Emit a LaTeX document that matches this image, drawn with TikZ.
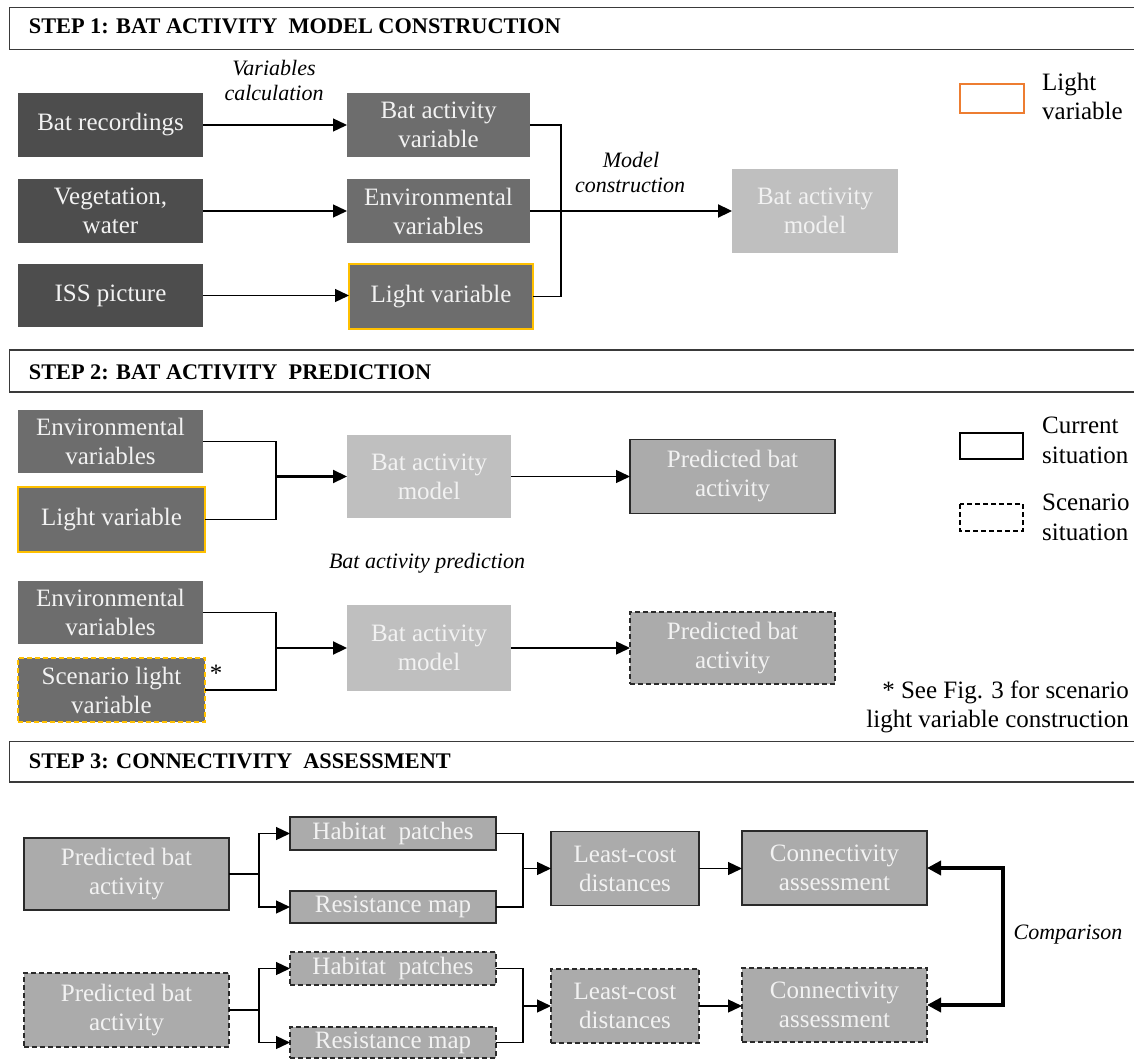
\documentclass[tikz,border=0pt]{standalone}
\usepackage{fontspec}
\setmainfont{Liberation Serif}
\usetikzlibrary{arrows.meta}
\definecolor{dk}{HTML}{4D4D4D}
\definecolor{md}{HTML}{6D6D6D}
\definecolor{lt}{HTML}{BFBFBF}
\definecolor{pr}{HTML}{ABABAB}
\definecolor{bd}{HTML}{2A2A2A}
\definecolor{gold}{HTML}{FFC000}
\definecolor{orng}{HTML}{ED7D31}
\definecolor{hd}{HTML}{3A3A3A}
\definecolor{txw}{HTML}{F2F2F2}
\begin{document}
\begin{tikzpicture}[x=1pt,y=-1pt,
  box/.style={inner sep=0pt, outer sep=0pt, align=center, text=txw, font=\fontsize{25}{29}\selectfont},
  dkbox/.style={box, fill=dk},
  mdbox/.style={box, fill=md},
  ltbox/.style={box, fill=lt},
  prbox/.style={box, fill=pr, draw=bd, line width=1.4pt},
  scen/.style={dash pattern=on 5pt off 3pt},
  goldb/.style={draw=gold, line width=1.6pt},
  conn/.style={line width=1.3pt},
  arr/.style={conn, -{Triangle[length=14pt,width=13pt]}},
  thickarr/.style={line width=2.2pt, -{Triangle[length=14pt,width=13pt]}},
  hdr/.style={draw=hd, line width=1.5pt},
  title/.style={anchor=base west, inner sep=0pt, font=\fontsize{22.3}{26}\selectfont\bfseries},
  lab/.style={inner sep=0pt, anchor=base, font=\fontsize{22}{25}\selectfont\itshape},
  leg/.style={inner sep=0pt, anchor=base west, font=\fontsize{25}{29}\selectfont},
]
\useasboundingbox (0,0) rectangle (1134,1059);
\clip (0,0) rectangle (1134,1059);
\fill[white] (0,0) rectangle (1134,1059);

% ---------- headers
\draw[hdr] (9.6,7.3) rectangle (1145,49.3);
\node[title] (t1) at (28.7,34) {STEP 1: BAT ACTIVITY\ \ MODEL CONSTRUCTION};
\draw[hdr] (9.6,350) rectangle (1145,392);
\node[title] (t2) at (28.7,379) {STEP 2: BAT ACTIVITY\ \ PREDICTION};
\draw[hdr] (9.6,741.5) rectangle (1145,782);
\node[title] (t3) at (28.7,768) {STEP 3: CONNECTIVITY\ \ ASSESSMENT};

% ---------- step 1
\node[dkbox, minimum width=185pt, minimum height=64pt] (rec) at (110.5,125) {Bat recordings};
\node[dkbox, minimum width=185pt, minimum height=64pt] (veg) at (110.5,211) {Vegetation,\\water};
\node[dkbox, minimum width=185pt, minimum height=63pt] (iss) at (110.5,295.5) {ISS picture};
\node[mdbox, minimum width=183pt, minimum height=64pt] (bav) at (438.5,125) {Bat activity\\variable};
\node[mdbox, minimum width=183pt, minimum height=64pt] (env1) at (438.5,211) {Environmental\\variables};
\node[mdbox, goldb, minimum width=184pt, minimum height=65pt] (lv1) at (441,296.5) {Light variable};
\node[ltbox, minimum width=166pt, minimum height=84pt] (bam1) at (815,211) {Bat activity\\model};

\draw[arr] (rec.east) -- (bav.west);
\draw[arr] (veg.east) -- (env1.west);
\draw[arr] (iss.east) -- (iss.east -| lv1.west);
\coordinate (j1) at (561,211);
\draw[conn] (bav.east) -| (j1) |- (lv1.east);
\draw[thickarr] (env1.east) -- (bam1.west);

\node[lab] (vc1) at (274,76) {Variables};
\node[lab] (vc2) at (274,101) {calculation};
\node[lab] (mc1) at (631,168) {Model};
\node[lab] (mc2) at (630,193) {construction};

\draw[draw=orng, line width=1.5pt] (960,84) rectangle (1024,113);
\node[leg] (lg1) at (1042,91) {Light};
\node[leg] (lg2) at (1042,120) {variable};

% ---------- step 2
\node[mdbox, minimum width=185pt, minimum height=63pt] (env2a) at (110.5,441.5) {Environmental\\variables};
\node[mdbox, goldb, minimum width=187pt, minimum height=65pt] (lv2) at (111.5,519.5) {Light variable};
\node[ltbox, minimum width=164pt, minimum height=83pt] (bam2a) at (429,476.5) {Bat activity\\model};
\node[prbox, minimum width=205pt, minimum height=74pt] (pba) at (732.5,476.5) {Predicted bat\\activity};
\coordinate (j2) at (276,476.5);
\draw[conn] (env2a.east) -| (j2) |- (lv2.east);
\draw[thickarr] (j2) -- (bam2a.west);
\draw[arr] (bam2a.east) -- (pba.west);

\node[lab] (bap) at (427,568) {Bat activity prediction};

\node[mdbox, minimum width=185pt, minimum height=63pt] (env2b) at (110.5,612.5) {Environmental\\variables};
\node[mdbox, goldb, scen, minimum width=187pt, minimum height=64pt] (slv) at (111.5,690) {Scenario light\\variable};
\node[ltbox, minimum width=164pt, minimum height=86pt] (bam2b) at (429,648) {Bat activity\\model};
\node[prbox, scen, minimum width=205pt, minimum height=72pt] (pbb) at (732.5,648) {Predicted bat\\activity};
\coordinate (j3) at (276,648);
\draw[conn] (env2b.east) -| (j3) |- (slv.east);
\draw[thickarr] (j3) -- (bam2b.west);
\draw[arr] (bam2b.east) -- (pbb.west);
\node[leg, anchor=base] (ast) at (216,681) {*};

\draw[draw=black, line width=1.4pt] (960,433) rectangle (1023,459);
\node[leg] (lg3) at (1042,433) {Current};
\node[leg] (lg4) at (1042,463) {situation};
\draw[draw=black, line width=1.4pt, scen] (960,504) rectangle (1023,531);
\node[leg] (lg5) at (1042,510) {Scenario};
\node[leg] (lg6) at (1042,540) {situation};

\node[leg, anchor=base east] (fn1) at (1129,698) {* See Fig. 3 for scenario};
\node[leg, anchor=base east] (fn2) at (1129,727) {light variable construction};

% ---------- step 3
\node[prbox, minimum width=205pt, minimum height=72pt] (pbc) at (126.5,874) {Predicted bat\\activity};
\node[prbox, minimum width=206pt, minimum height=33pt] (hpc) at (393,833.5) {Habitat\ \ patches};
\node[prbox, minimum width=206pt, minimum height=32pt] (rmc) at (393,907) {Resistance map};
\node[prbox, minimum width=148pt, minimum height=74pt] (lcc) at (625,868.5) {Least-cost\\distances};
\node[prbox, minimum width=185pt, minimum height=74pt] (cac) at (834.5,868) {Connectivity\\assessment};

\node[prbox, scen, minimum width=205pt, minimum height=74pt] (pbs) at (126.5,1010) {Predicted bat\\activity};
\node[prbox, scen, minimum width=206pt, minimum height=33pt] (hps) at (393,968.5) {Habitat\ \ patches};
\node[prbox, scen, minimum width=206pt, minimum height=31pt] (rms) at (393,1042.5) {Resistance map};
\node[prbox, scen, minimum width=148pt, minimum height=74pt] (lcs) at (625,1006) {Least-cost\\distances};
\node[prbox, scen, minimum width=185pt, minimum height=74pt] (cas) at (834.5,1005) {Connectivity\\assessment};

\coordinate (b1) at (259,874);
\draw[conn] (pbc.east) -- (b1);
\draw[arr] (b1) |- (hpc.west);
\draw[arr] (b1) |- (rmc.west);
\coordinate (m1) at (523,868.5);
\draw[conn] (hpc.east) -| (m1) |- (rmc.east);
\draw[arr] (m1) -- (lcc.west);
\draw[arr] (lcc.east) -- (lcc.east -| cac.west);

\coordinate (b2) at (259,1010);
\draw[conn] (pbs.east) -- (b2);
\draw[arr] (b2) |- (hps.west);
\draw[arr] (b2) |- (rms.west);
\coordinate (m2) at (523,1006);
\draw[conn] (hps.east) -| (m2) |- (rms.east);
\draw[arr] (m2) -- (lcs.west);
\draw[arr] (lcs.east) -- (lcs.east -| cas.west);

\coordinate (cmp) at (1003,936);
\draw[line width=4pt, {Triangle[length=14pt,width=14pt]}-{Triangle[length=14pt,width=14pt]}] (cac.east) -| (cmp) |- (cas.east);
\node[lab] (cmpl) at (1068,939) {Comparison};
\end{tikzpicture}
\end{document}
